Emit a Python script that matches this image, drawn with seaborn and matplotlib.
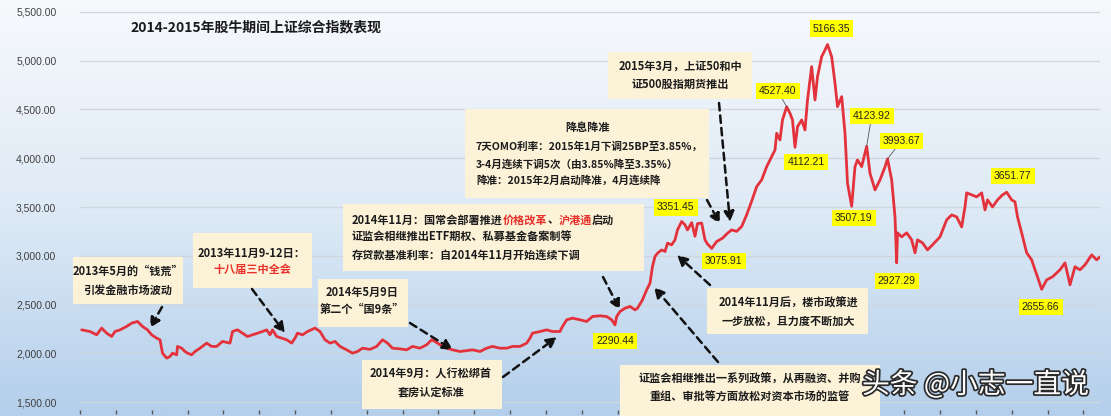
import pandas as pd
import numpy as np
import seaborn as sns
import matplotlib.pyplot as plt
import matplotlib.patheffects as pe
from matplotlib.patches import Rectangle
from matplotlib.ticker import FuncFormatter

# 上证综指
dates_2013 = ["2013-01-04", "2013-01-14", "2013-01-22", "2013-01-28", "2013-02-03", "2013-02-09",
              "2013-02-13", "2013-02-19", "2013-02-27", "2013-03-05", "2013-03-12", "2013-03-18",
              "2013-03-24", "2013-03-29", "2013-04-04", "2013-04-08", "2013-04-11", "2013-04-16",
              "2013-04-20", "2013-04-23", "2013-04-28", "2013-04-29", "2013-05-04", "2013-05-08",
              "2013-05-11", "2013-05-16", "2013-05-20", "2013-05-26", "2013-06-03", "2013-06-09",
              "2013-06-15", "2013-06-22", "2013-07-01", "2013-07-04", "2013-07-10", "2013-07-16",
              "2013-07-22", "2013-07-28", "2013-08-03", "2013-08-09", "2013-08-14", "2013-08-18",
              "2013-08-21", "2013-08-26", "2013-09-01", "2013-09-07", "2013-09-13", "2013-09-17",
              "2013-09-20", "2013-09-26", "2013-10-02", "2013-10-11", "2013-10-17", "2013-10-23",
              "2013-10-29", "2013-11-04", "2013-11-10", "2013-11-18", "2013-11-25", "2013-12-01",
              "2013-12-07", "2013-12-16", "2013-12-24", "2013-12-31"]
close_2013 = [2240, 2223, 2189, 2258, 2206, 2172,
              2223, 2240, 2275, 2309, 2326, 2275,
              2240, 2189, 2155, 2138, 2001, 1950,
              1967, 2001, 1984, 2070, 2052, 2018,
              2001, 1984, 2018, 2052, 2104, 2070,
              2070, 2121, 2104, 2223, 2240, 2206,
              2172, 2189, 2206, 2223, 2240, 2189,
              2240, 2172, 2155, 2138, 2104, 2155,
              2206, 2189, 2223, 2258, 2223, 2138,
              2104, 2121, 2070, 2035, 2001, 2018,
              2052, 2040, 2070, 2138]

dates_2014 = ["2014-01-06", "2014-01-12", "2014-01-21", "2014-01-29", "2014-02-05", "2014-02-14",
              "2014-02-22", "2014-02-28", "2014-03-04", "2014-03-10", "2014-03-18", "2014-03-25",
              "2014-04-03", "2014-04-11", "2014-04-18", "2014-04-27", "2014-05-05", "2014-05-12",
              "2014-05-21", "2014-05-29", "2014-06-05", "2014-06-14", "2014-06-22", "2014-06-26",
              "2014-06-29", "2014-07-08", "2014-07-16", "2014-07-23", "2014-08-01", "2014-08-04",
              "2014-08-09", "2014-08-16", "2014-08-25", "2014-09-02", "2014-09-09", "2014-09-18",
              "2014-09-26", "2014-10-02", "2014-10-06", "2014-10-08", "2014-10-12", "2014-10-18",
              "2014-10-24", "2014-10-30", "2014-11-02", "2014-11-08", "2014-11-13", "2014-11-17",
              "2014-11-20", "2014-11-23", "2014-11-26", "2014-12-01", "2014-12-05", "2014-12-08",
              "2014-12-13", "2014-12-17", "2014-12-20", "2014-12-25", "2014-12-29"]
close_2014 = [2104, 2052, 2045, 2035, 2070, 2052,
              2087, 2138, 2121, 2087, 2052, 2035,
              2018, 2027, 2035, 2018, 2052, 2070,
              2052, 2052, 2070, 2070, 2104, 2155,
              2206, 2223, 2240, 2223, 2223, 2275,
              2343, 2360, 2343, 2326, 2377, 2384,
              2377, 2343, 2290.44, 2377, 2428, 2462,
              2480, 2445, 2462, 2548, 2650, 2719,
              2890, 2992, 3026, 3060, 3043, 3129,
              3112, 3163, 3265, 3351.45, 3317]

dates_2015 = ["2015-01-01", "2015-01-06", "2015-01-10", "2015-01-13", "2015-01-18", "2015-01-22",
              "2015-01-25", "2015-01-30", "2015-02-05", "2015-02-12", "2015-02-18", "2015-02-23",
              "2015-03-01", "2015-03-07", "2015-03-13", "2015-03-19", "2015-03-25", "2015-03-31",
              "2015-04-06", "2015-04-12", "2015-04-16", "2015-04-18", "2015-04-22", "2015-04-25",
              "2015-04-30", "2015-05-04", "2015-05-07", "2015-05-10", "2015-05-13", "2015-05-18",
              "2015-05-22", "2015-05-25", "2015-05-30", "2015-06-03", "2015-06-06", "2015-06-11",
              "2015-06-15", "2015-06-18", "2015-06-23", "2015-06-27", "2015-06-30", "2015-07-05",
              "2015-07-09", "2015-07-12", "2015-07-17", "2015-07-21", "2015-07-24", "2015-07-29",
              "2015-08-04", "2015-08-08", "2015-08-14", "2015-08-20", "2015-08-26", "2015-08-29",
              "2015-09-03", "2015-09-07", "2015-09-09", "2015-09-10", "2015-09-15", "2015-09-21",
              "2015-09-27", "2015-10-01", "2015-10-04", "2015-10-10", "2015-10-16", "2015-10-22",
              "2015-10-31", "2015-11-08", "2015-11-14", "2015-11-20", "2015-11-26", "2015-11-30",
              "2015-12-02", "2015-12-08", "2015-12-14", "2015-12-20", "2015-12-24", "2015-12-27"]
close_2015 = [3265, 3340, 3200, 3330, 3335, 3163,
              3120, 3075.91, 3146, 3180, 3231, 3265,
              3250, 3300, 3420, 3560, 3709, 3778,
              3914, 4017, 4085, 4256, 4188, 4393,
              4527.40, 4461, 4393, 4112.21, 4324, 4393,
              4290, 4598, 4940, 4598, 4837, 5042,
              5110, 5166.35, 5042, 4769, 4530, 4632,
              4256, 3744, 3507.19, 3914, 3983, 3914,
              4123.92, 3846, 3675, 3778, 3911, 3993.67,
              3778, 3399, 2927.29, 3235, 3194, 3235,
              3163, 3030, 3163, 3132, 3060, 3112,
              3194, 3368, 3419, 3399, 3296, 3501,
              3645, 3624, 3604, 3645, 3470, 3573]

dates_2016 = ["2016-01-02", "2016-01-08", "2016-01-14", "2016-01-19", "2016-01-25", "2016-01-29",
              "2016-02-01", "2016-02-06", "2016-02-12", "2016-02-18", "2016-02-22", "2016-02-25",
              "2016-03-01", "2016-03-07", "2016-03-14", "2016-03-23", "2016-03-29", "2016-04-04",
              "2016-04-10", "2016-04-16", "2016-04-22", "2016-04-30", "2016-05-06", "2016-05-10"]
close_2016 = [3501, 3573, 3624, 3651.77, 3573, 3553,
              3399, 3235, 3030, 2958, 2856, 2784,
              2655.66, 2753, 2784, 2856, 2927, 2702,
              2887, 2856, 2907, 3009, 2958, 2989]

# 标注的高低点
label_dates = ["2014-10-06", "2014-12-25", "2015-01-30", "2015-04-30", "2015-05-10", "2015-06-18",
               "2015-07-17", "2015-08-04", "2015-08-29", "2015-09-09", "2016-01-19", "2016-03-01"]
label_offsets = [(0, -16), (-6, 14), (12, -13), (-9, 16), (11, -15), (4, 16),
                 (2, -12), (5, 30), (14, 18), (0, -18), (6, 16), (-1, -18)]
leader_dates = ["2015-04-30", "2015-08-04", "2015-08-29"]

title = "2014-2015年股牛期间上证综合指数表现"

BOX = "#fcf2d8"
TXT = "#1c1c1c"
RED = "#e8302a"

df = pd.DataFrame({
    "date": pd.to_datetime(dates_2013 + dates_2014 + dates_2015 + dates_2016),
    "close": close_2013 + close_2014 + close_2015 + close_2016,
})

sns.set_theme(style="white")
plt.rcParams["font.family"] = ["Noto Sans CJK SC", "DejaVu Sans"]

fig = plt.figure(figsize=(11.11, 4.16), dpi=100)

# background gradient
bg = fig.add_axes([0, 0, 1, 1], zorder=-10)
rows = np.linspace(0, 1, 256)
grad = np.stack([np.interp(rows, [0, 0.5, 1], [247, 222, 180]),
                 np.interp(rows, [0, 0.5, 1], [249, 234, 207]),
                 np.interp(rows, [0, 0.5, 1], [252, 246, 235])], axis=-1) / 255
bg.imshow(grad[:, None, :], aspect="auto", extent=(0, 1, 0, 1))
bg.axis("off")

x_start, x_end = pd.Timestamp("2013-01-02"), pd.Timestamp("2016-05-10")

ax = fig.add_axes([80 / 1111, 6 / 416, 1020 / 1111, 402 / 416])
ax.set_facecolor("none")
sns.lineplot(data=df, x="date", y="close", ax=ax, color="#e3323b", lw=2.0, zorder=2)
ax.set_xlim(x_start, x_end)
ax.set_ylim(1418, 5541)
ax.set_xlabel("")
ax.set_ylabel("")
ax.set_yticks(range(1500, 5501, 500))
ax.yaxis.set_major_formatter(FuncFormatter(lambda v, p: f"{v:,.2f}"))
ax.grid(axis="y", color="#cfd6de", lw=1)
ax.set_xticks(pd.date_range(x_start, x_end, freq="43D"))
ax.tick_params(axis="x", bottom=True, length=3, width=1, pad=0, color="#555555",
               labelbottom=False)
ax.tick_params(axis="y", left=False, pad=11, labelsize=7.5, labelcolor="#404040")
for lab in ax.get_yticklabels():
    lab.set_family("Liberation Sans")
for s in ax.spines.values():
    s.set_visible(False)


def ref(x, y):
    # reference-pixel position -> axes fraction
    return ((x - 80) / 1020, (410 - y) / 402)


def box(x0, y0, x1, y1):
    ax.add_patch(Rectangle(ref(x0, y1), (x1 - x0) / 1020, (y1 - y0) / 402, transform=ax.transAxes,
                           fc=BOX, ec="none", zorder=3, clip_on=False))


def note(x, y, s, ha="center", color=TXT, size=8):
    return ax.text(*ref(x, y), s, transform=ax.transAxes, ha=ha, va="center", fontsize=size,
                   weight="bold", color=color, zorder=4, clip_on=False)


def chain(first, parts):
    prev = first
    for s, c in parts:
        prev = ax.annotate(s, xy=(1, 0), xycoords=prev, ha="left", va="bottom", fontsize=8,
                           weight="bold", color=c, zorder=4)


def arrow(tail, head):
    ax.annotate("", xy=ref(*head), xytext=ref(*tail), xycoords="axes fraction",
                arrowprops=dict(arrowstyle="-|>,head_length=0.5,head_width=0.25", lw=1.8,
                                ls=(0, (3, 2)), color="#111111", shrinkA=0, shrinkB=0), zorder=5)


fig.text(130 / 1111, 1 - 27 / 416, title, fontsize=10, weight="bold", color="#1a1a1a",
         ha="left", va="center")

box(73, 257, 183, 304)
note(128, 271, "2013年5月的“钱荒”")
note(128, 290, "引发金融市场波动")
arrow((162, 307), (150, 328))

box(193, 233, 312, 288)
note(252, 253, "2013年11月9-12日：")
note(252, 270, "十八届三中全会", color=RED)
arrow((252, 289), (285, 333))

box(318, 279, 408, 327)
note(362, 292, "2014年5月9日")
note(362, 309, "第二个“国9条”")
arrow((410, 323), (453, 350))

box(362, 360, 502, 409)
note(431, 374, "2014年9月：人行松绑首")
note(431, 392, "套房认定标准")
arrow((503, 377), (557, 337))

box(343, 204, 644, 271)
first = note(352, 220, "2014年11月：国常会部署推进", ha="left")
chain(first, [("价格改革", RED), ("、", TXT), ("沪港通", RED), ("启动", TXT)])
note(352, 237, "证监会相继推出ETF期权、私募基金备案制等", ha="left")
note(352, 255, "存贷款基准利率：自2014年11月开始连续下调", ha="left")
arrow((603, 277), (620, 310))

box(465, 109, 709, 198)
note(588, 128, "降息降准")
note(476, 147, "7天OMO利率：2015年1月下调25BP至3.85%，", ha="left", size=7.6)
note(476, 164, "3-4月连续下调5次（由3.85%降至3.35%）", ha="left", size=7.6)
note(476, 180, "降准：2015年2月启动降准，4月连续降", ha="left", size=7.6)
arrow((707, 200), (720, 224))

box(608, 52, 752, 99)
note(680, 66, "2015年3月，上证50和中")
note(680, 84, "证500股指期货推出")
arrow((719, 103), (730, 222))

box(707, 288, 868, 334)
note(788, 303, "2014年11月后，楼市政策进")
note(788, 321, "一步放松，且力度不断加大")
arrow((710, 285), (677, 255))

box(620, 365, 880, 416)
note(750, 379, "证监会相继推出一系列政策，从再融资、并购")
note(750, 397, "重组、审批等方面放松对资本市场的监管")
arrow((718, 362), (654, 287))

for d, (dx, dy) in zip(label_dates, label_offsets):
    v = df.loc[df["date"] == pd.Timestamp(d), "close"].iloc[0]
    props = None
    if d in leader_dates:
        props = dict(arrowstyle="-", color="#555555", lw=0.6, shrinkA=0, shrinkB=0)
    ax.annotate(f"{v:.2f}", xy=(pd.Timestamp(d), v), xytext=(dx * 0.72, dy * 0.72),
                textcoords="offset points", ha="center", va="center", fontsize=7.5,
                family="Liberation Sans", color="#222222", zorder=6,
                bbox=dict(boxstyle="square,pad=0.3", fc="#ffff00", ec="none"),
                arrowprops=props)

fig.text(862 / 1111, 1 - 385 / 416, "头条 @小志一直说", fontsize=20, color="white",
         ha="left", va="center",
         path_effects=[pe.Stroke(linewidth=2.5, foreground="#2a2a2a"), pe.Normal()])

fig.savefig("out.png", dpi=100)
